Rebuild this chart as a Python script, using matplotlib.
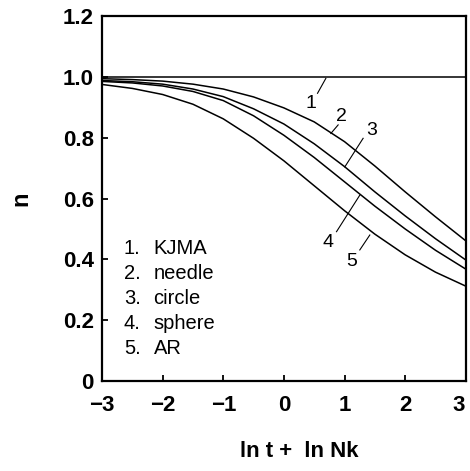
import matplotlib
matplotlib.use("Agg")
import matplotlib.pyplot as plt
import matplotlib.transforms as mtransforms
from matplotlib.ticker import FuncFormatter

plt.rcParams['font.family'] = ['Liberation Sans', 'DejaVu Sans']

# values
x = [-3, -2.5, -2, -1.5, -1, -0.5, 0, 0.5, 1, 1.5, 2, 2.5, 3]
n_kjma = [1.0] * len(x)
n_needle = [0.994, 0.991, 0.986, 0.976, 0.960, 0.934, 0.898, 0.852, 0.787, 0.707, 0.622, 0.540, 0.461]
n_circle = [0.988, 0.984, 0.976, 0.960, 0.935, 0.895, 0.845, 0.780, 0.705, 0.622, 0.543, 0.468, 0.398]
n_sphere = [0.985, 0.980, 0.970, 0.952, 0.922, 0.872, 0.808, 0.735, 0.655, 0.575, 0.500, 0.430, 0.368]
n_ar = [0.975, 0.962, 0.942, 0.910, 0.862, 0.798, 0.724, 0.642, 0.560, 0.483, 0.415, 0.358, 0.312]

series = [n_kjma, n_needle, n_circle, n_sphere, n_ar]
names = ['KJMA', 'needle', 'circle', 'sphere', 'AR']

# curve number labels: text position, leader start, leader end
curve_labels = [
    ('1', (0.44, 0.913), (0.692, 0.995), (0.555, 0.946)),
    ('2', (0.951, 0.869), (0.775, 0.814), (0.895, 0.842)),
    ('3', (1.445, 0.822), (1.005, 0.704), (1.307, 0.798)),
    ('4', (0.73, 0.455), (1.252, 0.611), (0.868, 0.491)),
    ('5', (1.116, 0.392), (1.417, 0.480), (1.252, 0.431)),
]

fig = plt.figure(figsize=(4.70, 4.71), dpi=100)
ax = fig.add_axes([0.217, 0.191, 0.774, 0.775])

for ys in series:
    ax.plot(x, ys, color='black', lw=1.1)

for num, txt, p0, p1 in curve_labels:
    ax.plot([p0[0], p1[0]], [p0[1], p1[1]], color='black', lw=0.8)
    ax.text(txt[0], txt[1], num, fontsize=14, ha='center', va='center')

# legend list in the lower left
for i, name in enumerate(names):
    yy = 0.437 - i * 0.0825
    ax.text(-2.64, yy, f'{i + 1}.', fontsize=14.5, va='center', ha='left')
    ax.text(-2.15, yy, name, fontsize=14.5, va='center', ha='left')

ax.set_xlim(-3, 3)
ax.set_ylim(0, 1.2)
ax.set_xticks([-3, -2, -1, 0, 1, 2, 3])
ax.set_yticks([0, 0.2, 0.4, 0.6, 0.8, 1.0, 1.2])
ax.xaxis.set_major_formatter(FuncFormatter(lambda v, p: f'{v:.0f}'.replace('-', '\u2212')))
ax.yaxis.set_major_formatter(FuncFormatter(lambda v, p: '0' if v == 0 else f'{v:.1f}'))
ax.tick_params(direction='in', length=4, width=1.3, labelsize=16)
ax.tick_params(axis='x', pad=10)
ax.tick_params(axis='y', pad=6)
for lab in ax.get_xticklabels() + ax.get_yticklabels():
    lab.set_fontweight('bold')
for sp in ax.spines.values():
    sp.set_linewidth(1.6)

# last x tick label sits at the figure edge; nudge it inward a little
last = ax.get_xticklabels()[-1]
last.set_transform(last.get_transform() + mtransforms.ScaledTranslation(-5 / 72, 0, fig.dpi_scale_trans))

ax.set_xlabel('ln t +  ln Nk', fontsize=16, fontweight='bold')
ax.xaxis.set_label_coords(0.541, -0.163)
ax.set_ylabel('n', fontsize=17, fontweight='bold')
ax.yaxis.set_label_coords(-0.19, 0.5)

fig.savefig('out.png', dpi=100)
